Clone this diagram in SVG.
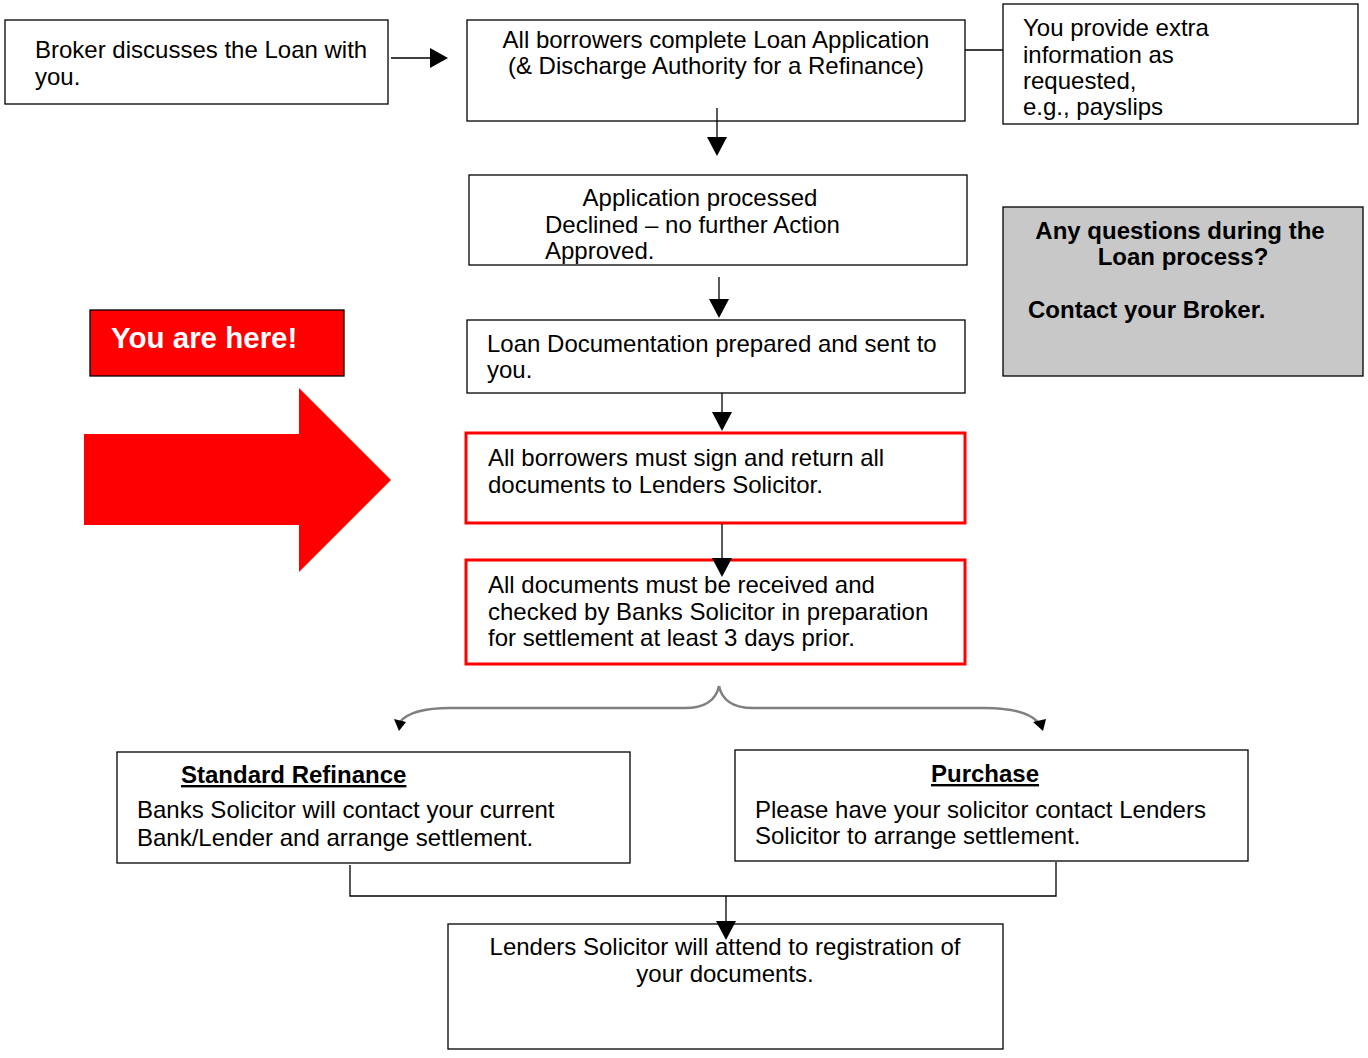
<svg xmlns="http://www.w3.org/2000/svg" width="1368" height="1058" viewBox="0 0 1368 1058">
<style>
.box{fill:#fff;stroke:#000;stroke-width:1.3}
.rbox{fill:#fff;stroke:#ff0000;stroke-width:3}
.t{font-family:"Liberation Sans",Arial,sans-serif;font-size:24px;fill:#000}
.b{font-weight:bold}
.c{text-anchor:middle}
.ln{stroke:#000;stroke-width:1.3;fill:none}
</style>
<rect width="1368" height="1058" fill="#fff"/>
<g id="bigarrow">
<path d="M84,434 H299 V388 L391,480 L299,572 V525 H84 z" fill="#ff0000"/>
</g>
<g id="here">
<rect x="90" y="310" width="254" height="66" fill="#ff0000" stroke="#000" stroke-width="1.3"/>
<text class="t b" x="111" y="348" style="fill:#fff;font-size:29.5px">You are here!</text>
</g>
<g id="n1">
<rect class="box" x="5" y="20" width="383" height="84"/>
<text class="t" x="35" y="58">Broker discusses the Loan with</text>
<text class="t" x="35" y="85">you.</text>
</g>
<g id="n2">
<rect class="box" x="467" y="20" width="498" height="101"/>
<text class="t c" x="716" y="48">All borrowers complete Loan Application</text>
<text class="t c" x="716" y="74">(&amp; Discharge Authority for a Refinance)</text>
</g>
<g id="n3">
<rect class="box" x="1003" y="4" width="355" height="120"/>
<text class="t" x="1023" y="36">You provide extra</text>
<text class="t" x="1023" y="63">information as</text>
<text class="t" x="1023" y="89">requested,</text>
<text class="t" x="1023" y="115">e.g., payslips</text>
</g>
<g id="n4">
<rect class="box" x="469" y="175" width="498" height="90"/>
<text class="t c" x="700" y="206">Application processed</text>
<text class="t" x="545" y="233">Declined – no further Action</text>
<text class="t" x="545" y="259">Approved.</text>
</g>
<g id="questions">
<rect x="1003" y="207" width="360" height="169" fill="#c8c8c8" stroke="#000" stroke-width="1.3"/>
<text class="t b c" x="1180" y="239">Any questions during the</text>
<text class="t b c" x="1183" y="265">Loan process?</text>
<text class="t b" x="1028" y="318">Contact your Broker.</text>
</g>
<g id="n5">
<rect class="box" x="467" y="320" width="498" height="73"/>
<text class="t" x="487" y="352">Loan Documentation prepared and sent to</text>
<text class="t" x="487" y="378">you.</text>
</g>
<g id="n6">
<rect class="rbox" x="466" y="433" width="499" height="90"/>
<text class="t" x="488" y="466">All borrowers must sign and return all</text>
<text class="t" x="488" y="493">documents to Lenders Solicitor.</text>
</g>
<g id="n7">
<rect class="rbox" x="466" y="560" width="499" height="104"/>
<text class="t" x="488" y="593">All documents must be received and</text>
<text class="t" x="488" y="620">checked by Banks Solicitor in preparation</text>
<text class="t" x="488" y="646">for settlement at least 3 days prior.</text>
</g>
<g id="n8">
<rect class="box" x="117" y="752" width="513" height="111"/>
<text class="t b" x="181" y="783" text-decoration="underline">Standard Refinance</text>
<text class="t" x="137" y="818">Banks Solicitor will contact your current</text>
<text class="t" x="137" y="846">Bank/Lender and arrange settlement.</text>
</g>
<g id="n9">
<rect class="box" x="735" y="750" width="513" height="111"/>
<text class="t b c" x="985" y="782" text-decoration="underline">Purchase</text>
<text class="t" x="755" y="818">Please have your solicitor contact Lenders</text>
<text class="t" x="755" y="844">Solicitor to arrange settlement.</text>
</g>
<g id="n10">
<rect class="box" x="448" y="924" width="555" height="125"/>
<text class="t c" x="725" y="955">Lenders Solicitor will attend to registration of</text>
<text class="t c" x="725" y="982">your documents.</text>
</g>
<g id="connectors">
<line class="ln" x1="391" y1="58" x2="430" y2="58"/>
<path d="M430,48 L448,58 L430,68 z" fill="#000"/>
<line class="ln" x1="965" y1="50" x2="1003" y2="50"/>
<line class="ln" x1="717" y1="108" x2="717" y2="138"/>
<path d="M707,137 L727,137 L717,156 z" fill="#000"/>
<line class="ln" x1="719" y1="277" x2="719" y2="300"/>
<path d="M709,299 L729,299 L719,318 z" fill="#000"/>
<line class="ln" x1="722" y1="393" x2="722" y2="413"/>
<path d="M712,412 L732,412 L722,431 z" fill="#000"/>
<line class="ln" x1="722" y1="524" x2="722" y2="559"/>
<path d="M712,558 L732,558 L722,577 z" fill="#000"/>
<path d="M719,686 C716,700 705,708 685,708 L450,708 C425,708 408,712 400,722" fill="none" stroke="#808080" stroke-width="2.5"/>
<path d="M719,686 C722,700 733,708 753,708 L985,708 C1010,708 1028,712 1038,722" fill="none" stroke="#808080" stroke-width="2.5"/>
<path d="M394,719 L406,722 L399,731 z" fill="#000"/>
<path d="M1033,722 L1046,719 L1043,731 z" fill="#000"/>
<path class="ln" d="M350,865 V896 H1056 V862"/>
<line class="ln" x1="726" y1="896" x2="726" y2="922"/>
<path d="M716,921 L736,921 L726,940 z" fill="#000"/>
</g>
</svg>
